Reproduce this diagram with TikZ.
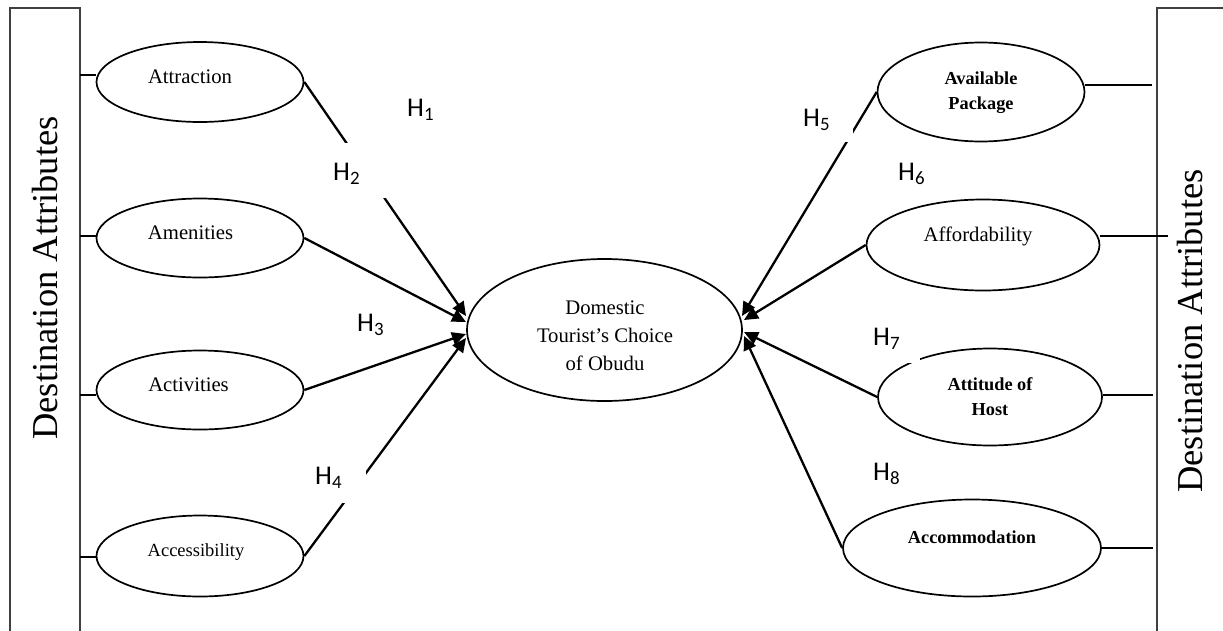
\documentclass[tikz,border=0pt]{standalone}
\usepackage{fontspec}
\setmainfont{Liberation Serif}
\newfontfamily\hfont{Carlito}
\usetikzlibrary{arrows.meta,shapes.geometric}
\tikzset{
  oval/.style={ellipse, draw, line width=1.7pt, inner sep=0pt},
  otext/.style={inner sep=0pt, align=center, font=\fontsize{20.7}{28}\selectfont},
  btext/.style={inner sep=0pt, align=center, font=\bfseries\fontsize{18.3}{25}\selectfont},
  hlab/.style={inner sep=0pt, font=\hfont\fontsize{27}{30}\selectfont},
  arr/.style={line width=2.3pt, -{Triangle[length=14pt,width=13pt]}},
  link/.style={line width=1.7pt},
  boxline/.style={draw=black!75, line width=1.1pt},
  side/.style={inner sep=0pt, rotate=90, font=\fontsize{36.5}{40}\selectfont},
}
\begin{document}
\begin{tikzpicture}[x=1pt,y=-1pt]
\useasboundingbox (0,0) rectangle (1223,630);
% side boxes
\draw[boxline] (10,8) rectangle (80,660);
\draw[boxline] (1157,8) rectangle (1250,660);
\node[side] (lside) at (45,278) {Destination Attributes};
\node[side] (rside) at (1190,331) {Destination Attributes};
% ellipses left
\node[oval, minimum width=207pt, minimum height=80pt] (attr) at (200,82) {};
\node[oval, minimum width=207pt, minimum height=79pt] (amen) at (200,238) {};
\node[oval, minimum width=207pt, minimum height=79pt] (activ) at (200,390) {};
\node[oval, minimum width=207pt, minimum height=81pt] (access) at (200,556) {};
% center
\node[oval, minimum width=275pt, minimum height=142pt] (dest) at (604.5,330) {};
% ellipses right
\node[oval, minimum width=207pt, minimum height=99pt] (avail) at (981,92) {};
\node[oval, minimum width=233pt, minimum height=91pt] (afford) at (983,245) {};
\node[oval, minimum width=224pt, minimum height=97pt] (attit) at (990,397) {};
\node[oval, minimum width=258pt, minimum height=97pt] (accom) at (972,548) {};
% texts
\node[otext] (attr-t) at (190,77) {Attraction};
\node[otext] (amen-t) at (190.5,233) {Amenities};
\node[otext] (activ-t) at (188.5,385) {Activities};
\node[otext, font=\fontsize{18.5}{24}\selectfont] (access-t) at (196,552) {Accessibility};
\node[otext] (dest-t) at (605,336) {Domestic\\Tourist’s Choice\\of Obudu};
\node[btext] (avail-t) at (981,93) {Available\\Package};
\node[otext] (afford-t) at (978,236) {Affordability};
\node[btext] (attit-t) at (990,397) {Attitude of\\Host};
\node[btext] (accom-t) at (972,537) {Accommodation};
% arrow tips
\coordinate (t1) at (466,316);
\coordinate (t2) at (466,322);
\coordinate (t3) at (466,334);
\coordinate (t4) at (466,338);
\coordinate (t5) at (742,316);
\coordinate (t6) at (744,320);
\coordinate (t7) at (744,332);
\coordinate (t8) at (744,336);
% side links
\draw[link] (80,75) -- (attr.west |- 0,75);
\draw[link] (80,236) -- (amen.west |- 0,236);
\draw[link] (80,395) -- (activ.west |- 0,395);
\draw[link] (80,557) -- (access.west |- 0,557);
\coordinate (r1) at (1152,85);
\coordinate (r2) at (1168,236);
\coordinate (r3) at (1153,395);
\coordinate (r4) at (1153,548);
\draw[link] (avail.east |- r1) -- (r1);
\draw[link] (afford.east |- r2) -- (r2);
\draw[link] (attit.east |- r3) -- (r3);
\draw[link] (accom.east) -- (r4);
% arrows
\draw[arr] (attr.east) -- (t1);
\draw[arr] (amen.east) -- (t2);
\draw[arr] (activ.east) -- (t3);
\draw[arr] (access.east) -- (t4);
\draw[arr] (avail.west) -- (t5);
\draw[arr] (afford.west) -- (t6);
\draw[arr] (attit.west) -- (t7);
\draw[arr] (accom.west) -- (t8);
% white label backgrounds
\fill[white] (318,143) rectangle (388,198);
\fill[white] (305,455) rectangle (366,503);
\fill[white] (795,100) rectangle (853,142);
\fill[white] (865,320) rectangle (920,363);
% hypothesis labels
\node[hlab, anchor=west] (h1) at (407,110) {H\textsubscript{1}};
\node[hlab, anchor=west] (h2) at (333,174) {H\textsubscript{2}};
\node[hlab, anchor=west] (h3) at (357,325) {H\textsubscript{3}};
\node[hlab, anchor=west] (h4) at (315,478) {H\textsubscript{4}};
\node[hlab, anchor=west] (h5) at (803,120) {H\textsubscript{5}};
\node[hlab, anchor=west] (h6) at (898,174) {H\textsubscript{6}};
\node[hlab, anchor=west] (h7) at (873,339) {H\textsubscript{7}};
\node[hlab, anchor=west] (h8) at (873,474) {H\textsubscript{8}};
\end{tikzpicture}
\end{document}
